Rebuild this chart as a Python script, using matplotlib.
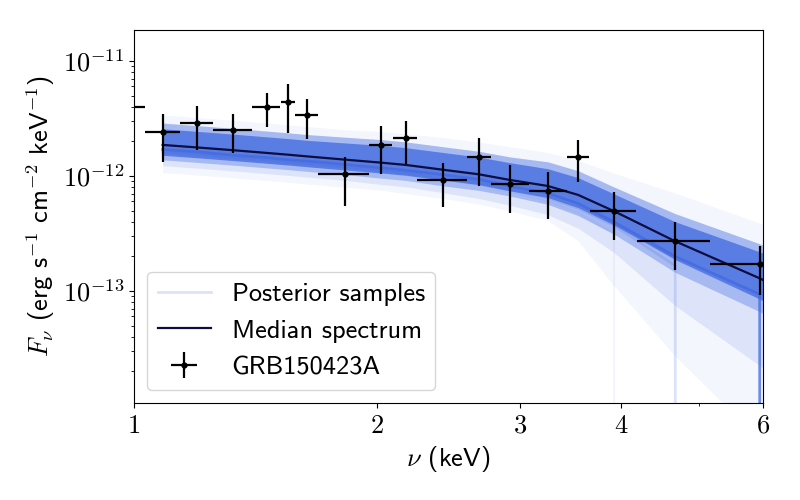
import numpy as np
import matplotlib
matplotlib.use("Agg")
import matplotlib.pyplot as plt
from matplotlib.ticker import FixedLocator, FixedFormatter, NullFormatter

plt.rcParams['mathtext.fontset'] = 'cm'
plt.rcParams['font.size'] = 19

# ---- observed spectrum (keV, erg/s/cm2/keV) ----
nu = [0.98, 1.085, 1.197, 1.326, 1.461, 1.551, 1.638, 1.824, 2.020, 2.168,
      2.412, 2.672, 2.919, 3.249, 3.543, 3.923, 4.670, 5.940]
nu_lo = [0.93, 1.032, 1.140, 1.254, 1.401, 1.520, 1.582, 1.690, 1.951, 2.092,
         2.240, 2.584, 2.767, 3.076, 3.434, 3.660, 4.190, 5.160]
nu_hi = [1.032, 1.140, 1.251, 1.398, 1.517, 1.582, 1.687, 1.951, 2.086, 2.236,
         2.580, 2.765, 3.076, 3.429, 3.652, 4.180, 5.150, 6.720]
flux = [4.0e-12, 2.43e-12, 2.89e-12, 2.51e-12, 3.96e-12, 4.40e-12, 3.39e-12, 1.03e-12,
        1.86e-12, 2.15e-12, 9.29e-13, 1.46e-12, 8.52e-13, 7.41e-13, 1.46e-12, 4.99e-13,
        2.74e-13, 1.72e-13]
flux_lo = [2.8e-12, 1.33e-12, 1.69e-12, 1.58e-12, 2.68e-12, 2.38e-12, 2.11e-12, 5.5e-13,
           1.03e-12, 1.28e-12, 5.4e-13, 8.2e-13, 4.8e-13, 4.2e-13, 8.8e-13, 2.76e-13,
           1.52e-13, 9.3e-14]
flux_hi = [5.3e-12, 3.44e-12, 4.06e-12, 3.44e-12, 5.27e-12, 6.31e-12, 4.67e-12, 1.46e-12,
           2.70e-12, 3.01e-12, 1.29e-12, 2.12e-12, 1.25e-12, 1.08e-12, 2.05e-12, 7.2e-13,
           3.96e-13, 2.47e-13]

# ---- model grid, posterior median (log10 flux) and spread about it (dex) ----
nu_model = [1.085, 1.197, 1.326, 1.461, 1.551, 1.638, 1.824, 2.020, 2.168,
            2.412, 2.672, 2.919, 3.249, 3.543, 3.923, 4.670, 5.940, 6.720]
med_log = [-11.730, -11.752, -11.776, -11.800, -11.815, -11.830, -11.858, -11.884, -11.904,
           -11.946, -11.986, -12.035, -12.087, -12.165, -12.306, -12.568, -12.890, -13.080]
core_up = [0.14, 0.14, 0.14, 0.14, 0.14, 0.14, 0.145, 0.15, 0.15,
           0.15, 0.15, 0.15, 0.15, 0.15, 0.15, 0.17, 0.23, 0.26]
core_dn = [0.09, 0.09, 0.09, 0.09, 0.09, 0.09, 0.09, 0.09, 0.09,
           0.09, 0.09, 0.095, 0.10, 0.11, 0.12, 0.16, 0.18, 0.21]
mid_up = [0.19, 0.19, 0.19, 0.19, 0.19, 0.19, 0.195, 0.20, 0.20,
          0.20, 0.20, 0.20, 0.21, 0.21, 0.21, 0.24, 0.30, 0.33]
mid_dn = [0.13, 0.13, 0.13, 0.13, 0.13, 0.13, 0.13, 0.135, 0.135,
          0.14, 0.14, 0.14, 0.16, 0.18, 0.20, 0.27, 0.29, 0.34]
tail_dn = [0.18, 0.18, 0.18, 0.18, 0.18, 0.18, 0.18, 0.19, 0.19,
           0.20, 0.21, 0.22, 0.25, 0.29, 0.36, 0.56, 0.76, 0.90]
env_up = [0.26, 0.26, 0.26, 0.26, 0.26, 0.26, 0.26, 0.27, 0.27,
          0.28, 0.28, 0.29, 0.29, 0.30, 0.33, 0.42, 0.48, 0.50]
env_dn = [0.24, 0.24, 0.24, 0.24, 0.24, 0.24, 0.24, 0.24, 0.25,
          0.25, 0.26, 0.27, 0.30, 0.40, 0.65, 1.00, 1.40, 1.60]

# samples whose flux drops to zero (None = zero flux)
drop_a_log = [-11.80, -11.82, -11.85, -11.87, -11.89, -11.90, -11.93, -11.96, -11.98,
              -12.03, -12.08, -12.14, -12.22, -12.32, -12.50, None, None, None]
drop_b_log = [-11.79, -11.81, -11.84, -11.86, -11.88, -11.89, -11.92, -11.95, -11.97,
              -12.02, -12.06, -12.12, -12.19, -12.28, -12.43, -12.78, None, None]
drop_c_log = [-11.77, -11.79, -11.82, -11.84, -11.86, -11.87, -11.90, -11.93, -11.95,
              -11.99, -12.03, -12.09, -12.15, -12.24, -12.40, -12.70, -13.03, None]

xtick_vals = [1, 2, 3, 4, 6]
xtick_labels = ['$1$', '$2$', '$3$', '$4$', '$6$']
ytick_vals = [1e-13, 1e-12, 1e-11]
ytick_labels = ['$10^{-13}$', '$10^{-12}$', '$10^{-11}$']


def lin(a):
    return np.array([0.0 if v is None else 10.0**v for v in a])


med = np.array(med_log)


def band(up, dn):
    return 10.0**(med - np.array(dn)), 10.0**(med + np.array(up))


blue = '#4169e1'
sans = 'cmss10'
fig = plt.figure(figsize=(8, 5), dpi=100)
ax = fig.add_axes([0.1675, 0.194, 0.7865, 0.746])
ax.set_xscale('log')
ax.set_yscale('log')

xm = np.array(nu_model)
ax.fill_between(xm, *band(env_up, env_dn), color=blue, alpha=0.06, lw=0)
ax.fill_between(xm, *band(mid_up, tail_dn), color=blue, alpha=0.12, lw=0)
ax.fill_between(xm, *band(mid_up, mid_dn), color=blue, alpha=0.35, lw=0)
ax.fill_between(xm, *band(core_up, core_dn), color=blue, alpha=0.75, lw=0)

ax.plot(xm, lin(drop_a_log), color=blue, alpha=0.06, lw=1.5)
ax.plot(xm, lin(drop_b_log), color=blue, alpha=0.18, lw=2, label='Posterior samples')
ax.plot(xm, lin(drop_c_log), color=blue, alpha=0.75, lw=2)

ax.plot(xm, 10.0**med, color='#0d0d40', lw=1.6, label='Median spectrum')

x = np.array(nu)
y = np.array(flux)
xerr = [x - np.array(nu_lo), np.array(nu_hi) - x]
yerr = [y - np.array(flux_lo), np.array(flux_hi) - y]
ax.errorbar(x, y, xerr=xerr, yerr=yerr, fmt='.', color='k', ms=7, elinewidth=1.6,
            capsize=0, label='GRB150423A')

ax.set_xlim(1, 6)
ax.set_ylim(1.06e-14, 1.86e-11)
ax.xaxis.set_major_locator(FixedLocator(xtick_vals))
ax.xaxis.set_major_formatter(FixedFormatter(xtick_labels))
ax.xaxis.set_minor_locator(FixedLocator([5]))
ax.xaxis.set_minor_formatter(NullFormatter())
ax.yaxis.set_major_locator(FixedLocator(ytick_vals))
ax.yaxis.set_major_formatter(FixedFormatter(ytick_labels))
ax.tick_params(labelsize=19)

ax.set_xlabel(r'$\nu$ (keV)', fontsize=19, family=sans)
ax.set_ylabel(r'$F_\nu$ (erg s$^{-1}$ cm$^{-2}$ keV$^{-1}$)', fontsize=19, family=sans)

ax.legend(loc='lower left', prop={'family': sans, 'size': 19})

fig.savefig('out.png', dpi=100)
